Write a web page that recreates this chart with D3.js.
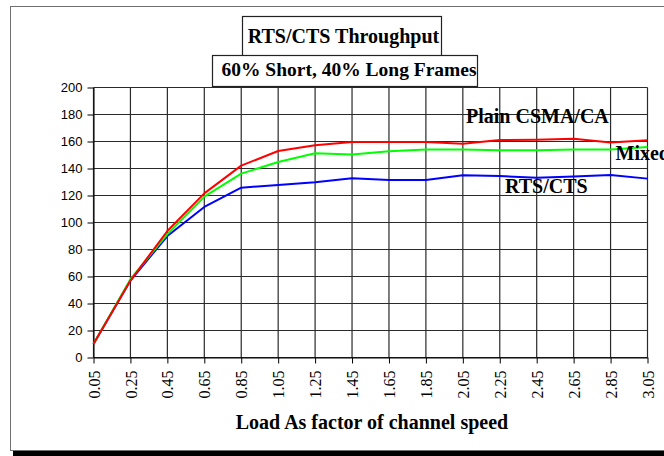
<!DOCTYPE html>
<html>
<head>
<meta charset="utf-8">
<script src="https://cdn.jsdelivr.net/npm/d3@7"></script>
<style>
  body { margin: 0; background: #fff; }
  svg { display: block; }
</style>
</head>
<body>
<div id="chart"></div>
<script>
// load factor categories (x)
var loads = [0.05, 0.25, 0.45, 0.65, 0.85, 1.05, 1.25, 1.45, 1.65, 1.85, 2.05, 2.25, 2.45, 2.65, 2.85, 3.05];
var loadLabels = ["0.05", "0.25", "0.45", "0.65", "0.85", "1.05", "1.25", "1.45", "1.65", "1.85", "2.05", "2.25", "2.45", "2.65", "2.85", "3.05"];

// throughput series
var plainCsma = [10, 57, 93.7, 121.6, 142.1, 153, 157.2, 159.7, 159.7, 159.7, 158.4, 161.1, 161.3, 162.1, 159.2, 160.9];
var mixed     = [10, 58, 91.4, 119.1, 136.2, 144.8, 151.3, 150.3, 152.8, 154, 154, 153.5, 153.5, 154, 154, 156];
var rtsCts    = [10, 57, 90, 111.5, 125.8, 127.8, 129.8, 132.7, 131.5, 131.5, 135, 134.4, 133.2, 134, 135.2, 132.5];

var yTicks = [0, 20, 40, 60, 80, 100, 120, 140, 160, 180, 200];

var width = 664, height = 456;
var serif = "'Liberation Serif', 'Times New Roman', serif",
    sans = "'Liberation Sans', Arial, sans-serif";

var svg = d3.select("#chart").append("svg")
    .attr("width", width)
    .attr("height", height);

// outer chart frame with shadow at the bottom
svg.append("rect")
    .attr("x", 13).attr("y", 451)
    .attr("width", width).attr("height", 6)
    .attr("fill", "#000");
svg.append("rect")
    .attr("x", 10.5).attr("y", 6.5)
    .attr("width", 700).attr("height", 444)
    .attr("fill", "#fff")
    .attr("stroke", "#707070")
    .attr("stroke-width", 1);

var x = d3.scaleLinear().domain([0.05, 3.05]).range([93.5, 647.5]);
var y = d3.scaleLinear().domain([0, 200]).range([357.5, 87.5]);

// grid
var grid = svg.append("g").attr("class", "grid")
    .attr("stroke", "#2a2a2a")
    .attr("stroke-width", 1.2);
grid.selectAll("line.h").data(yTicks).enter().append("line")
    .attr("class", "h")
    .attr("x1", x(0.05)).attr("x2", x(3.05))
    .attr("y1", function(d){ return y(d); })
    .attr("y2", function(d){ return y(d); });
grid.selectAll("line.v").data(loads).enter().append("line")
    .attr("class", "v")
    .attr("y1", y(0)).attr("y2", y(200))
    .attr("x1", function(d){ return x(d); })
    .attr("x2", function(d){ return x(d); });

// y axis
var yAxis = svg.append("g")
    .attr("transform", "translate(" + x(0.05) + ",0)")
    .call(d3.axisLeft(y).tickValues(yTicks).tickSizeInner(6).tickSizeOuter(0).tickPadding(5));
yAxis.selectAll("text")
    .style("font-family", sans)
    .style("font-size", "13px")
    .attr("fill", "#000");

// x axis, labels rotated
var xAxis = svg.append("g")
    .attr("transform", "translate(0," + y(0) + ")")
    .call(d3.axisBottom(x).tickValues(loads).tickSizeInner(6).tickSizeOuter(0)
          .tickFormat(function(d, i){ return loadLabels[i]; }));
xAxis.selectAll("text")
    .attr("transform", "rotate(-90)")
    .attr("x", -13)
    .attr("y", 0)
    .attr("dy", "0.35em")
    .style("text-anchor", "end")
    .style("font-family", serif)
    .style("font-size", "16px")
    .attr("fill", "#000");
svg.selectAll(".domain, .tick line").attr("stroke", "#000");

// series lines
var line = d3.line()
    .x(function(d, i){ return x(loads[i]); })
    .y(function(d){ return y(d); });

var series = [
  { values: rtsCts, colour: "#0000ff" },
  { values: mixed, colour: "#00ff00" },
  { values: plainCsma, colour: "#ff0000" }
];
svg.selectAll("path.series").data(series).enter().append("path")
    .attr("class", "series")
    .attr("fill", "none")
    .attr("stroke", function(d){ return d.colour; })
    .attr("stroke-width", 2)
    .attr("stroke-linejoin", "round")
    .attr("d", function(d){ return line(d.values); });

// title boxes
svg.append("rect")
    .attr("x", 242.5).attr("y", 16.5).attr("width", 199).attr("height", 39.5)
    .attr("fill", "#fff").attr("stroke", "#222").attr("stroke-width", 1.2);
svg.append("rect")
    .attr("x", 212.5).attr("y", 55.5).attr("width", 265).attr("height", 31)
    .attr("fill", "#fff").attr("stroke", "#222").attr("stroke-width", 1.2);

svg.append("text")
    .attr("x", 343.5).attr("y", 43)
    .attr("text-anchor", "middle")
    .style("font-family", serif).style("font-weight", "bold").style("font-size", "20px")
    .text("RTS/CTS Throughput");
svg.append("text")
    .attr("x", 349).attr("y", 76)
    .attr("text-anchor", "middle")
    .style("font-family", serif).style("font-weight", "bold").style("font-size", "19.5px")
    .text("60% Short, 40% Long Frames");

// axis title
svg.append("text")
    .attr("x", 372).attr("y", 429)
    .attr("text-anchor", "middle")
    .style("font-family", serif).style("font-weight", "bold").style("font-size", "20px")
    .text("Load As factor of channel speed");

// series labels
var labels = [
  { text: "Plain CSMA/CA", x: 466, y: 122.5 },
  { text: "Mixed", x: 615.5, y: 160 },
  { text: "RTS/CTS", x: 505, y: 192.5 }
];
svg.selectAll("text.lbl").data(labels).enter().append("text")
    .attr("class", "lbl")
    .attr("x", function(d){ return d.x; })
    .attr("y", function(d){ return d.y; })
    .style("font-family", serif).style("font-weight", "bold").style("font-size", "20px")
    .text(function(d){ return d.text; });
</script>
</body>
</html>
